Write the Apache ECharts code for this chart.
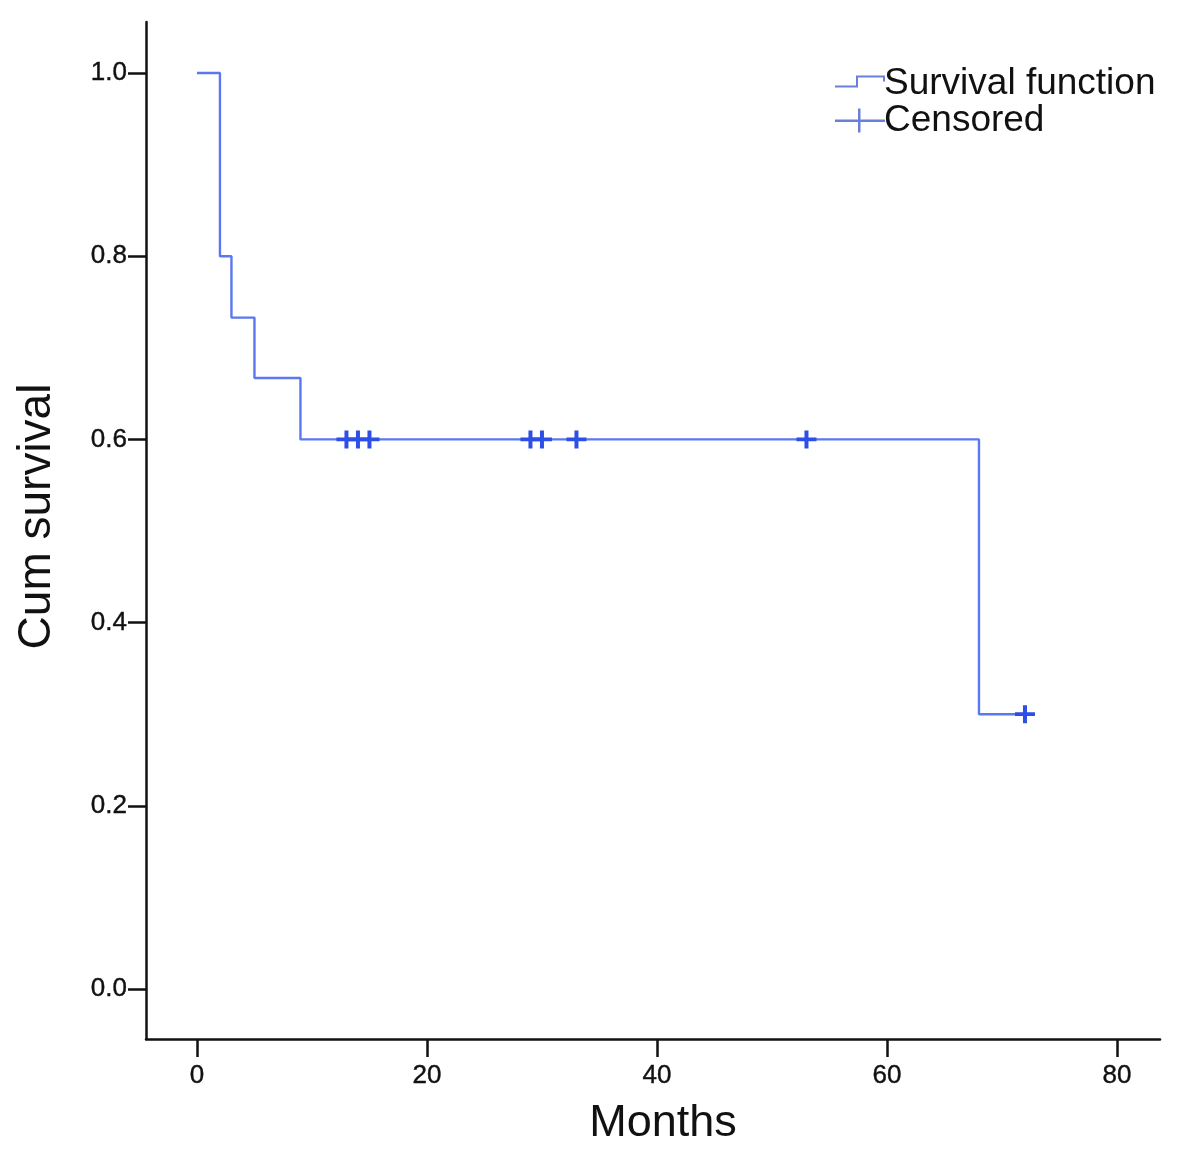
<!DOCTYPE html>
<html>
<head>
<meta charset="utf-8">
<script src="https://cdn.jsdelivr.net/npm/echarts@6/dist/echarts.min.js"></script>
<style>html,body{margin:0;padding:0;background:#fff;}#c{width:1181px;height:1161px;}</style>
</head>
<body>
<div id="c"></div>
<script>
// Kaplan-Meier step points (time in months, cumulative survival)
const stepTimes = [0, 2, 3, 5, 9, 68, 72];
const stepSurvival = [1.0, 0.8, 0.733, 0.667, 0.6, 0.3, 0.3];
// Censored observations
const censoredTimes = [13, 14, 15, 29, 30, 33, 53, 72];
const censoredSurvival = [0.6, 0.6, 0.6, 0.6, 0.6, 0.6, 0.6, 0.3];
// Tick labels
const xTicks = [0, 20, 40, 60, 80];
const yTicks = [0.0, 0.2, 0.4, 0.6, 0.8, 1.0];

const lineColor = '#5a78f0';
const markColor = '#2d4fe6';
const FONT = 'Liberation Sans, Arial, sans-serif';

const chart = echarts.init(document.getElementById('c'), null, {renderer: 'canvas'});
const axisText = {color: '#111', fontSize: 26, fontFamily: FONT, textBorderColor: '#111', textBorderWidth: 0.4};

// tiny corner dots keep the icon bounding box at 50x24 so the shape is not stretched
const corners = ' M0,0 H0.01 V0.01 Z M49.99,24 H50 V23.99 Z';

chart.setOption({
  backgroundColor: '#ffffff',
  animation: false,
  grid: {left: 146, right: 21, top: 22, bottom: 122, containLabel: false},
  legend: {
    orient: 'vertical',
    left: 830,
    top: 60,
    itemGap: 0,
    itemWidth: 50,
    itemHeight: 24,
    textStyle: {color: '#111', fontSize: 37, fontFamily: FONT, padding: [0, 0, 0, -6]},
    data: [
      {name: 'Survival function', icon: 'path://M0,14 H21 V4 H50 V10 H48 V6 H23 V16 H0 Z' + corners, itemStyle: {color: '#6a80d8'}},
      {name: 'Censored', icon: 'path://M0,11 H23 V0 H25.5 V11 H50 V13.5 H25.5 V24 H23 V13.5 H0 Z', itemStyle: {color: '#6a80d8'}}
    ]
  },
  xAxis: {
    type: 'value',
    min: -4.43,
    max: 83.74,
    name: 'Months',
    nameLocation: 'middle',
    nameGap: 62,
    nameTextStyle: {color: '#111', fontSize: 45, fontFamily: FONT, padding: [0, 0, 0, 20]},
    axisLine: {show: true, onZero: false, lineStyle: {color: '#111', width: 2.5}},
    axisTick: {show: true, length: 18, lineStyle: {color: '#111', width: 2.5}, customValues: xTicks},
    axisLabel: Object.assign({margin: 24, customValues: xTicks, formatter: v => String(v)}, axisText),
    splitLine: {show: false}
  },
  yAxis: {
    type: 'value',
    min: -0.0546,
    max: 1.0557,
    name: 'Cum survival',
    nameLocation: 'middle',
    nameGap: 86,
    nameRotate: 90,
    nameTextStyle: {color: '#111', fontSize: 46, fontFamily: FONT, padding: [0, 0, 0, 28]},
    axisLine: {show: true, onZero: false, lineStyle: {color: '#111', width: 2.5}},
    axisTick: {show: true, length: 18, lineStyle: {color: '#111', width: 2.5}, customValues: yTicks},
    axisLabel: Object.assign({margin: 19, customValues: yTicks, formatter: v => Number(v).toFixed(1)}, axisText),
    splitLine: {show: false}
  },
  series: [
    {
      name: 'Survival function',
      type: 'line',
      step: 'end',
      showSymbol: false,
      symbol: 'none',
      lineStyle: {color: lineColor, width: 2.4},
      itemStyle: {color: lineColor},
      data: stepTimes.map((t, i) => [t, stepSurvival[i]]),
      z: 2
    },
    {
      name: 'Censored',
      type: 'scatter',
      symbol: 'path://M0,7.5 H20 V11.5 H0 Z M8,0 H12 V19 H8 Z',
      symbolSize: [20, 18],
      itemStyle: {color: markColor, opacity: 1},
      data: censoredTimes.map((t, i) => [t, censoredSurvival[i]]),
      z: 3
    }
  ]
});
</script>
</body>
</html>
